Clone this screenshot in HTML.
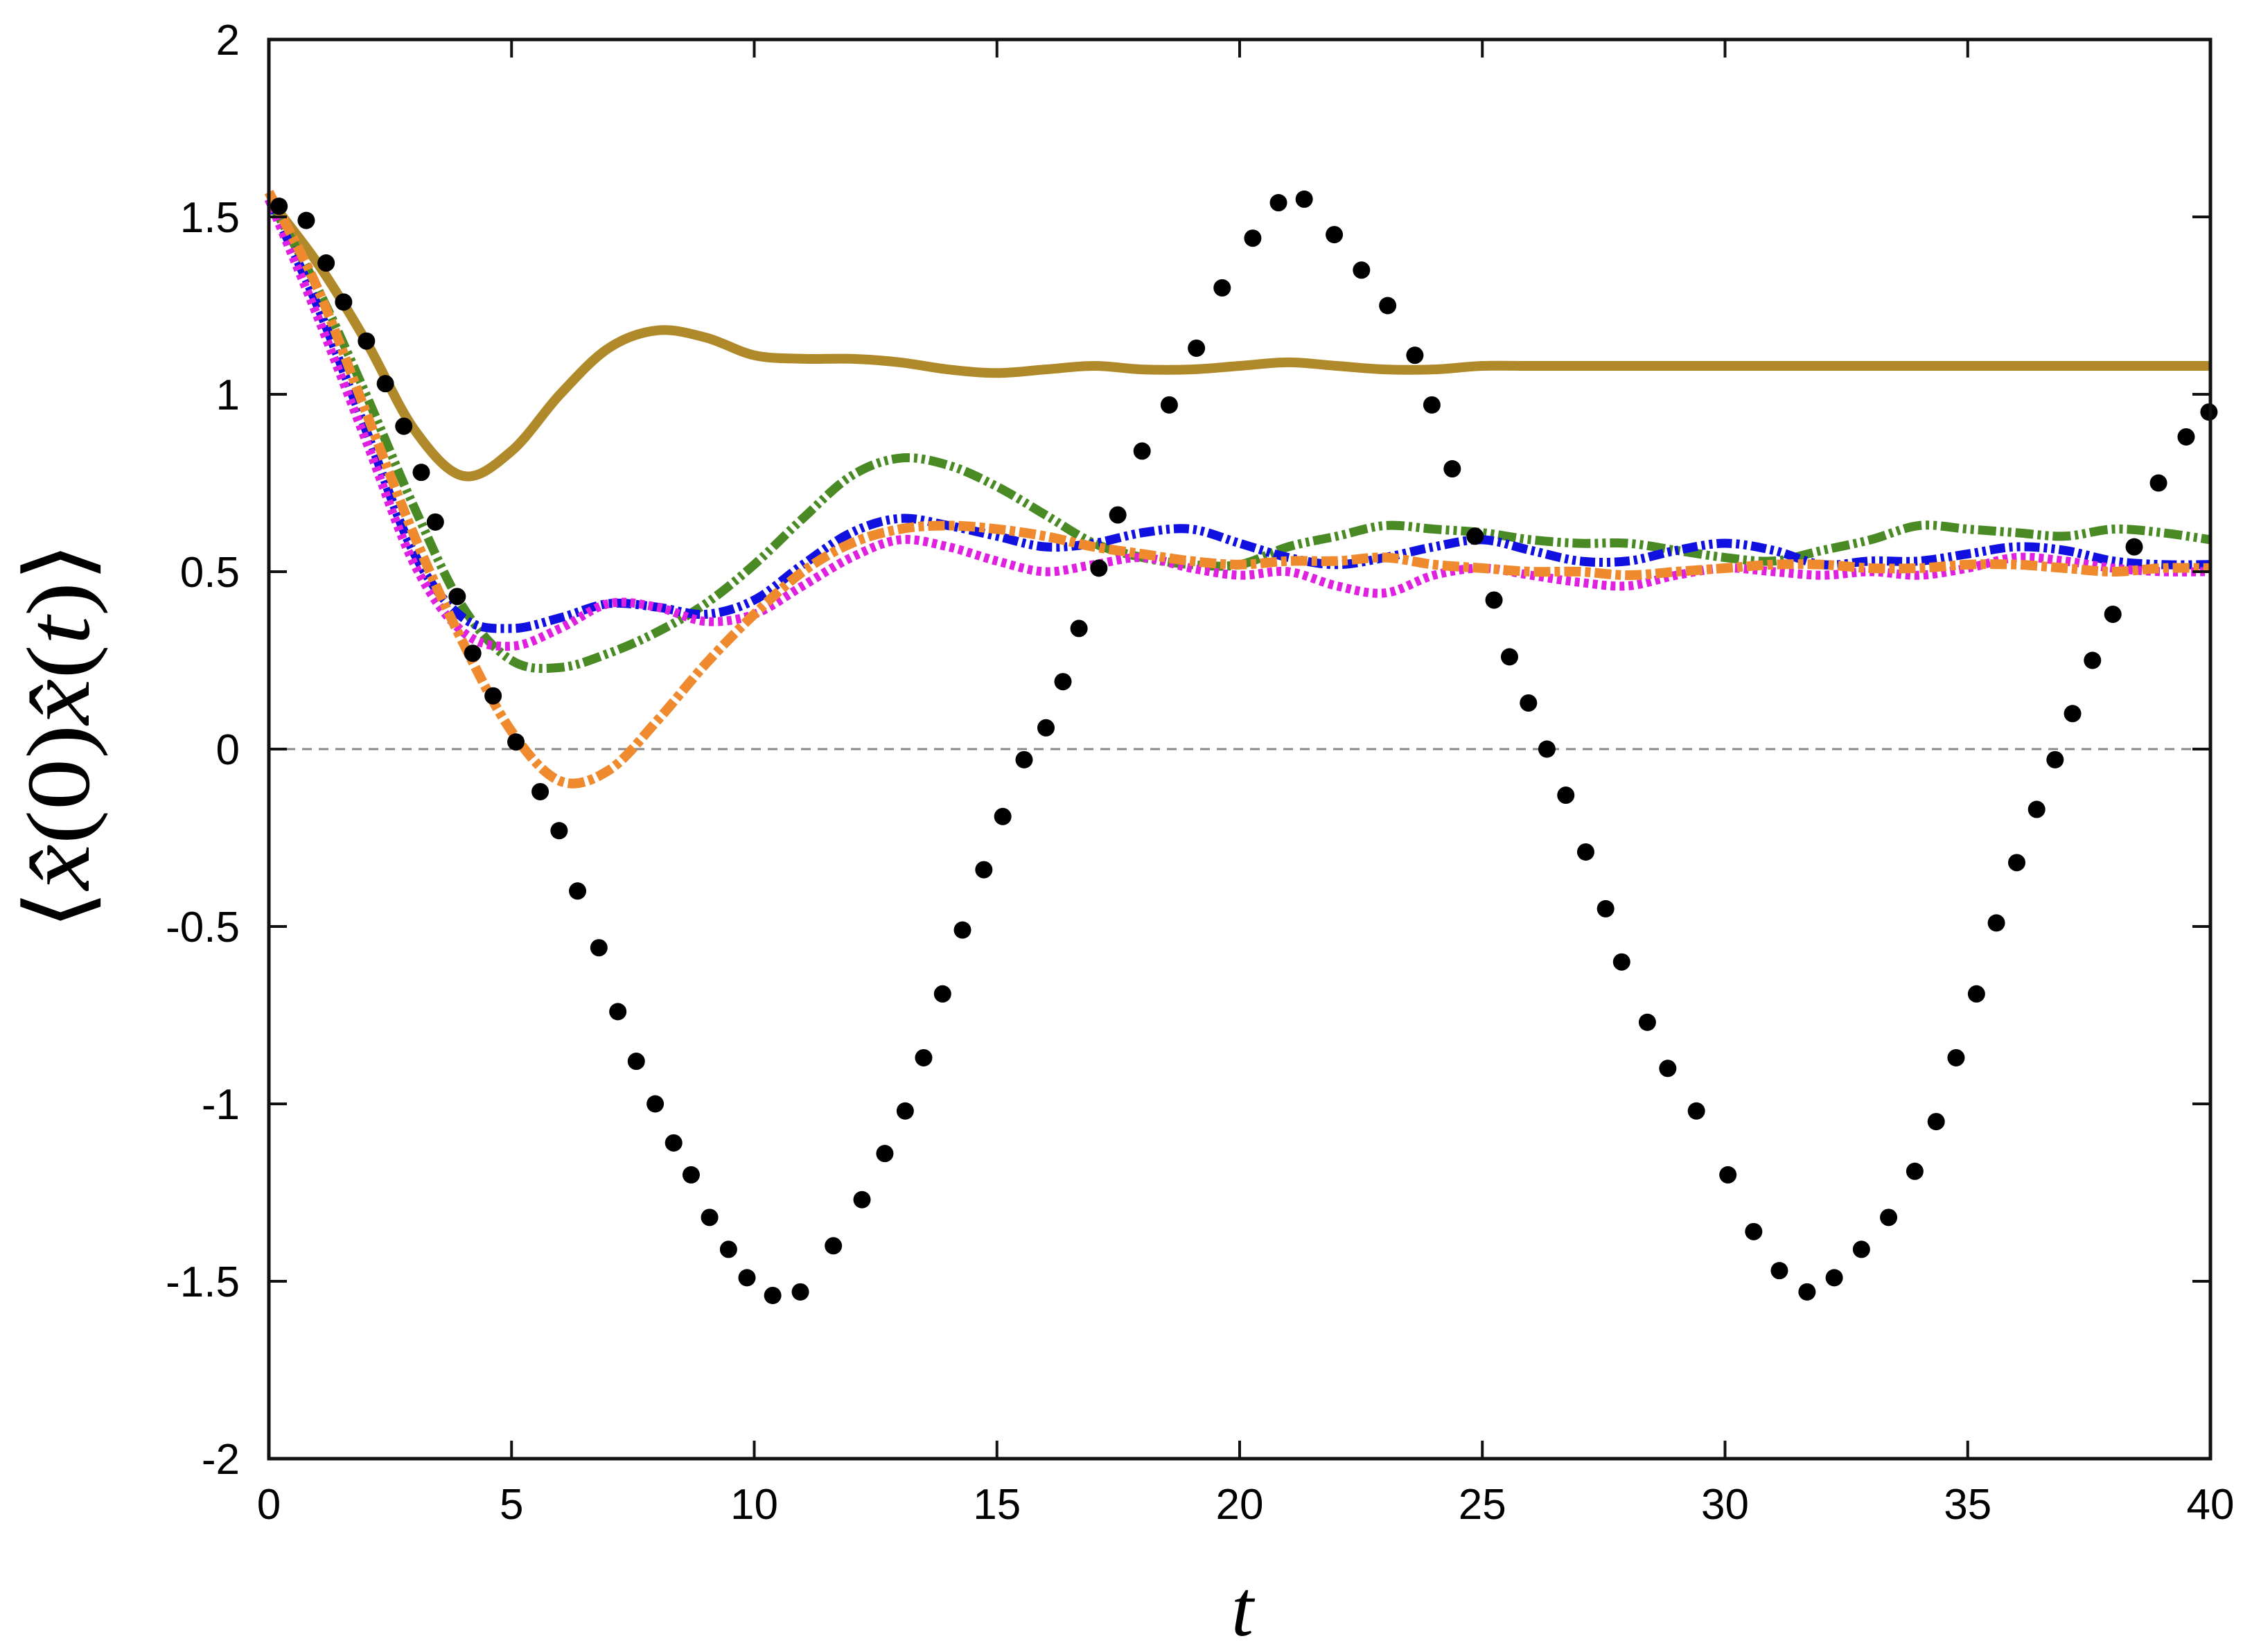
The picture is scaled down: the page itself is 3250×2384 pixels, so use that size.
<!DOCTYPE html>
<html><head><meta charset="utf-8"><style>
html,body{margin:0;padding:0;background:#fff;}
svg{display:block;}
</style></head><body>
<svg id="chart" width="3250" height="2384" viewBox="0 0 3250 2384" xmlns="http://www.w3.org/2000/svg" font-family="Liberation Sans, sans-serif">
<rect width="3250" height="2384" fill="#fff"/>
<g id="marks"></g>
<g id="axes"></g>
<text transform="translate(128,1062) rotate(-90)" text-anchor="middle" style="font-family:'Liberation Serif',serif" font-size="130" textLength="560" lengthAdjust="spacingAndGlyphs">⟨<tspan font-style="italic">x̂</tspan>(0)<tspan font-style="italic">x̂</tspan>(<tspan font-style="italic">t</tspan>)⟩</text>
<text x="1793" y="2360" text-anchor="middle" style="font-family:'Liberation Serif',serif" font-style="italic" font-size="115">t</text>
</svg>
<script>
const xTicks=[0,5,10,15,20,25,30,35,40];
const yTicks=[-2,-1.5,-1,-0.5,0,0.5,1,1.5,2];
const yTickLabels=['-2','-1.5','-1','-0.5','0','0.5','1','1.5','2'];
const lineT=[0,1,2,3,4,5,6,7,8,9,10,11,12,13,14,15,16,17,18,19,20,21,22,23,24,25,26,27,28,29,30,31,32,33,34,35,36,37,38,39,40];
const goldY=[1.55,1.37,1.15,0.90,0.77,0.84,1.00,1.13,1.18,1.16,1.11,1.10,1.10,1.09,1.07,1.06,1.07,1.08,1.07,1.07,1.08,1.09,1.08,1.07,1.07,1.08,1.08,1.08,1.08,1.08,1.08,1.08,1.08,1.08,1.08,1.08,1.08,1.08,1.08,1.08,1.08];
const greenY=[1.55,1.30,1.00,0.68,0.40,0.25,0.23,0.27,0.33,0.41,0.52,0.65,0.77,0.82,0.80,0.74,0.66,0.58,0.54,0.52,0.52,0.57,0.60,0.63,0.62,0.61,0.59,0.58,0.58,0.56,0.54,0.53,0.56,0.59,0.63,0.62,0.61,0.60,0.62,0.61,0.59];
const blueY=[1.55,1.25,0.90,0.55,0.37,0.34,0.37,0.41,0.40,0.38,0.42,0.52,0.61,0.65,0.63,0.60,0.57,0.58,0.61,0.62,0.58,0.54,0.52,0.54,0.57,0.59,0.56,0.53,0.53,0.56,0.58,0.56,0.52,0.53,0.53,0.55,0.57,0.56,0.53,0.52,0.52];
const magentaY=[1.55,1.22,0.87,0.52,0.33,0.29,0.34,0.41,0.40,0.36,0.38,0.46,0.54,0.59,0.57,0.53,0.50,0.52,0.54,0.51,0.49,0.50,0.46,0.44,0.49,0.51,0.49,0.47,0.46,0.49,0.51,0.50,0.49,0.50,0.49,0.51,0.54,0.53,0.51,0.50,0.50];
const orangeY=[1.57,1.30,0.95,0.60,0.30,0.05,-0.09,-0.06,0.08,0.24,0.38,0.50,0.58,0.62,0.63,0.62,0.60,0.57,0.55,0.53,0.52,0.53,0.53,0.54,0.52,0.51,0.50,0.50,0.49,0.50,0.51,0.52,0.52,0.51,0.51,0.52,0.52,0.51,0.50,0.51,0.51];
const dotT=[0.21,0.77,1.18,1.54,2.01,2.40,2.78,3.14,3.43,3.88,4.20,4.62,5.09,5.59,5.98,6.36,6.80,7.19,7.57,7.96,8.34,8.70,9.08,9.47,9.85,10.38,10.95,11.63,12.22,12.69,13.11,13.49,13.88,14.29,14.73,15.12,15.56,16.01,16.36,16.69,17.10,17.49,17.99,18.55,19.11,19.64,20.27,20.80,21.33,21.95,22.51,23.05,23.61,23.96,24.38,24.85,25.24,25.56,25.95,26.33,26.72,27.13,27.54,27.87,28.40,28.82,29.41,30.06,30.59,31.12,31.69,32.25,32.81,33.37,33.91,34.35,34.76,35.18,35.59,36.01,36.42,36.80,37.16,37.57,37.99,38.43,38.93,39.50,39.97];
const dotY=[1.53,1.49,1.37,1.26,1.15,1.03,0.91,0.78,0.64,0.43,0.27,0.15,0.02,-0.12,-0.23,-0.40,-0.56,-0.74,-0.88,-1.00,-1.11,-1.20,-1.32,-1.41,-1.49,-1.54,-1.53,-1.40,-1.27,-1.14,-1.02,-0.87,-0.69,-0.51,-0.34,-0.19,-0.03,0.06,0.19,0.34,0.51,0.66,0.84,0.97,1.13,1.30,1.44,1.54,1.55,1.45,1.35,1.25,1.11,0.97,0.79,0.60,0.42,0.26,0.13,0.00,-0.13,-0.29,-0.45,-0.60,-0.77,-0.90,-1.02,-1.20,-1.36,-1.47,-1.53,-1.49,-1.41,-1.32,-1.19,-1.05,-0.87,-0.69,-0.49,-0.32,-0.17,-0.03,0.10,0.25,0.38,0.57,0.75,0.88,0.95];

const L=388,R=3190,T=57,B=2105;
const sx=t=>L+(t-0)/40*(R-L);
const sy=v=>B-(v+2)/4*(B-T);
const NS='http://www.w3.org/2000/svg';
const marks=document.getElementById('marks'), axes=document.getElementById('axes');
function mk(tag,parent){const e=document.createElementNS(NS,tag);parent.appendChild(e);return e;}

const z=mk('line',marks);


z.setAttribute('x1',sx(0));z.setAttribute('x2',sx(40));z.setAttribute('y1',sy(0));z.setAttribute('y2',sy(0));
z.setAttribute('stroke','#888');z.setAttribute('stroke-width','3');z.setAttribute('stroke-dasharray','14,10');

function smoothPath(ts,ys){
  const p=ts.map((t,i)=>[sx(t),sy(ys[i])]);
  let d='M'+p[0][0]+','+p[0][1];
  for(let i=0;i<p.length-1;i++){
    const p0=p[Math.max(i-1,0)],p1=p[i],p2=p[i+1],p3=p[Math.min(i+2,p.length-1)];
    const c1=[p1[0]+(p2[0]-p0[0])/6,p1[1]+(p2[1]-p0[1])/6];
    const c2=[p2[0]-(p3[0]-p1[0])/6,p2[1]-(p3[1]-p1[1])/6];
    d+=' C'+c1[0]+','+c1[1]+' '+c2[0]+','+c2[1]+' '+p2[0]+','+p2[1];
  }
  return d;
}
function addLine(ys,color,dash,name,w){
  const e=mk('path',marks);
  
  
  e.setAttribute('d',smoothPath(lineT,ys));
  e.setAttribute('fill','none');e.setAttribute('stroke',color);e.setAttribute('stroke-width',w);
  if(dash)e.setAttribute('stroke-dasharray',dash);
}
addLine(goldY,'#b08a2a',null,'gold-solid-line',14);
addLine(greenY,'#4a8a25','26,6,5,6,5,6','green-dashdot-line',13);
addLine(blueY,'#1010e0','22,6,5,6,5,6','blue-dashdot-line',13);
addLine(magentaY,'#e020e0','7,6','magenta-dotted-line',13);
addLine(orangeY,'#ef8a2e','24,6,8,6','orange-dashed-line',14);

dotT.forEach((t,i)=>{
  const c=mk('circle',marks);
  
  
  c.setAttribute('cx',sx(t));c.setAttribute('cy',sy(dotY[i]));c.setAttribute('r','12.5');c.setAttribute('fill','#000');
});

const fr=mk('rect',axes);


fr.setAttribute('x',L);fr.setAttribute('y',T);fr.setAttribute('width',R-L);fr.setAttribute('height',B-T);
fr.setAttribute('fill','none');fr.setAttribute('stroke','#111');fr.setAttribute('stroke-width','5');

xTicks.forEach(t=>{
  [[B,B-26],[T,T+26]].forEach(([a,b])=>{
    const l=mk('line',axes);
    
    
    l.setAttribute('x1',sx(t));l.setAttribute('x2',sx(t));l.setAttribute('y1',a);l.setAttribute('y2',b);
    l.setAttribute('stroke','#111');l.setAttribute('stroke-width','4');
  });
  const tx=mk('text',axes);
  
  
  tx.setAttribute('x',sx(t));tx.setAttribute('y',B+87);tx.setAttribute('text-anchor','middle');tx.setAttribute('font-size','62');
  tx.textContent=String(t);
});
yTicks.forEach((v,i)=>{
  [[L,L+26],[R,R-26]].forEach(([a,b])=>{
    const l=mk('line',axes);
    
    
    l.setAttribute('x1',a);l.setAttribute('x2',b);l.setAttribute('y1',sy(v));l.setAttribute('y2',sy(v));
    l.setAttribute('stroke','#111');l.setAttribute('stroke-width','4');
  });
  const tx=mk('text',axes);
  
  
  tx.setAttribute('x',346);tx.setAttribute('y',sy(v)+22);tx.setAttribute('text-anchor','end');tx.setAttribute('font-size','62');
  tx.textContent=yTickLabels[i];
});
</script>
</body></html>
